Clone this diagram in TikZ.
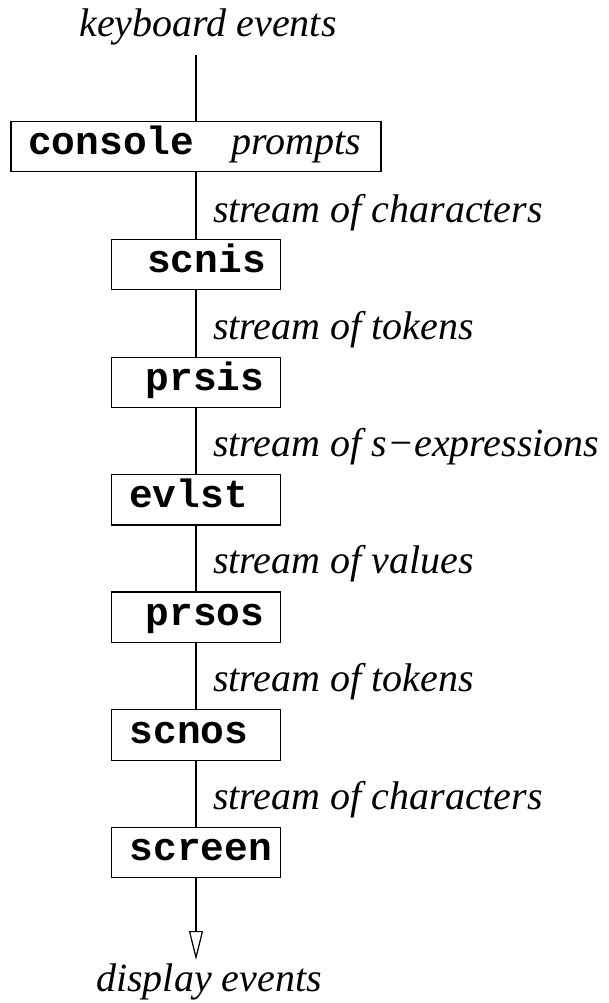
\documentclass[tikz,border=0pt]{standalone}
\usepackage{fontspec}
\setmainfont{Liberation Serif}
\setmonofont{Liberation Mono}
\usetikzlibrary{arrows.meta}

\tikzset{
  box/.style={draw, line width=1.2pt, inner sep=0pt, minimum height=50.5pt},
  stage/.style={box, minimum width=168.6pt},
  prog/.style={anchor=base west, inner sep=0pt,
    font=\fontsize{39.5}{44}\selectfont\ttfamily\bfseries},
  note/.style={anchor=base west, inner sep=0pt,
    font=\fontsize{40}{46}\selectfont\itshape},
  event/.style={note, anchor=base},
  flow/.style={line width=1.2pt},
}

\begin{document}
\begin{tikzpicture}[x=1pt, y=-1pt]
\useasboundingbox (0,0) rectangle (608,1003);

% external input
\node[event] (kbd) at (208,36.5) {keyboard events};
\coordinate (kbdend) at (196,55);

% console box with its prompt annotation
\node[box, minimum width=370pt] (console) at (196,146.5) {};
\node[prog] (consoletxt) at (28,155) {console};
\node[note] (prompts) at (231,155) {prompts};

% processing stages
\node[stage] (scnis)  at (196,264.5) {};
\node[stage] (prsis)  at (196,382.4) {};
\node[stage] (evlst)  at (196,499.7) {};
\node[stage] (prsos)  at (196,617.3) {};
\node[stage] (scnos)  at (196,735.0) {};
\node[stage] (screen) at (196,852.5) {};

\node[prog] (scnistxt)  at (147,272.7) {scnis};
\node[prog] (prsistxt)  at (145.5,390.5) {prsis};
\node[prog] (evlsttxt)  at (129,507.8) {evlst};
\node[prog] (prsostxt)  at (145.5,625.4) {prsos};
\node[prog] (scnostxt)  at (129.5,743.1) {scnos};
\node[prog] (screentxt) at (129.5,860.6) {screen};

% stream labels between the stages
\node[note] (s1) at (213,222.7) {stream of characters};
\node[note] (s2) at (213,339.5) {stream of tokens};
\node[note] (s3) at (213,456.5) {stream of s−expressions};
\node[note] (s4) at (213,573.3) {stream of values};
\node[note] (s5) at (213,691.5) {stream of tokens};
\node[note] (s6) at (213,809.5) {stream of characters};

% connectors
\draw[flow] (kbdend) -- (console.north -| kbdend);
\draw[flow] (console.south -| scnis.north) -- (scnis.north);
\draw[flow] (scnis) -- (prsis);
\draw[flow] (prsis) -- (evlst);
\draw[flow] (evlst) -- (prsos);
\draw[flow] (prsos) -- (scnos);
\draw[flow] (scnos) -- (screen);

% output
\node[event] (disp) at (209,991.7) {display events};
\coordinate (tip) at (196,960);
\draw[flow, -{Triangle[open, length=29pt, width=14pt]}] (screen.south) -- (tip);
\end{tikzpicture}
\end{document}
